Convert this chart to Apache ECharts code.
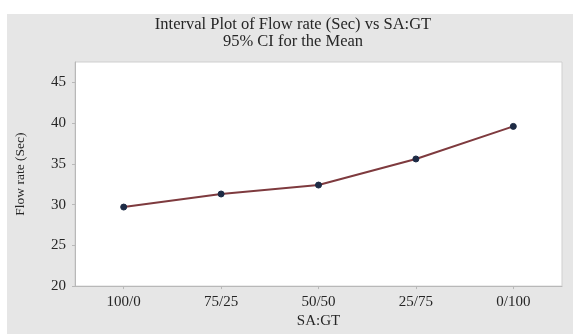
<!DOCTYPE html>
<html>
<head>
<meta charset="utf-8">
<style>
  html, body { margin: 0; padding: 0; background: #ffffff; }
  #chart { width: 573px; height: 334px; }
</style>
<script src="https://cdn.jsdelivr.net/npm/echarts@6/dist/echarts.min.js"></script>
</head>
<body>
<div id="chart"></div>
<script>
// SA:GT mix ratios and mean flow rate (seconds)
const categories = ['100/0', '75/25', '50/50', '25/75', '0/100'];
const flowRate = [29.7, 31.3, 32.4, 35.6, 39.6];
const yTicks = [20, 25, 30, 35, 40, 45];

const chart = echarts.init(document.getElementById('chart'), null, { renderer: 'canvas' });
const serif = '"Liberation Serif", "DejaVu Serif", serif';
const textColor = '#262626';
const axisColor = '#b8b8b8';

chart.setOption({
  backgroundColor: '#ffffff',
  animation: false,
  graphic: [
    {
      type: 'rect',
      z: -10,
      silent: true,
      shape: { x: 7, y: 14, width: 566, height: 320 },
      style: { fill: '#e6e6e6' }
    }
  ],
  title: {
    text: 'Interval Plot of Flow rate (Sec) vs SA:GT\n95% CI for the Mean',
    left: 288,
    textAlign: 'center',
    top: 11,
    textStyle: {
      fontFamily: serif,
      fontSize: 16.5,
      fontWeight: 'normal',
      color: textColor,
      lineHeight: 17
    }
  },
  grid: {
    left: 75,
    top: 62,
    right: 11,
    bottom: 45,
    show: true,
    backgroundColor: '#ffffff',
    borderColor: '#cfcfcf',
    borderWidth: 1
  },
  xAxis: {
    type: 'category',
    data: categories,
    boundaryGap: true,
    name: 'SA:GT',
    nameLocation: 'middle',
    nameGap: 26,
    nameTextStyle: { fontFamily: serif, fontSize: 15, color: textColor },
    axisLine: { lineStyle: { color: axisColor } },
    axisTick: { show: true, alignWithLabel: true, length: 3, lineStyle: { color: axisColor } },
    axisLabel: { fontFamily: serif, fontSize: 15, color: textColor, margin: 8 },
    splitLine: { show: false }
  },
  yAxis: {
    type: 'value',
    min: 20,
    max: 47.5,
    interval: 5,
    name: 'Flow rate (Sec)',
    nameLocation: 'middle',
    nameGap: 48,
    nameTextStyle: { fontFamily: serif, fontSize: 13.5, color: textColor },
    axisLine: { show: true, lineStyle: { color: axisColor } },
    axisTick: { show: true, length: 3, customValues: yTicks, lineStyle: { color: axisColor } },
    axisLabel: {
      fontFamily: serif,
      fontSize: 15,
      color: textColor,
      margin: 9,
      customValues: yTicks
    },
    splitLine: { show: false }
  },
  series: [
    {
      type: 'line',
      data: flowRate,
      symbol: 'circle',
      symbolSize: 6,
      lineStyle: { color: '#7e3a3e', width: 2 },
      itemStyle: { color: '#1d2b45', borderColor: '#1d2b45' }
    }
  ]
});
</script>
</body>
</html>
